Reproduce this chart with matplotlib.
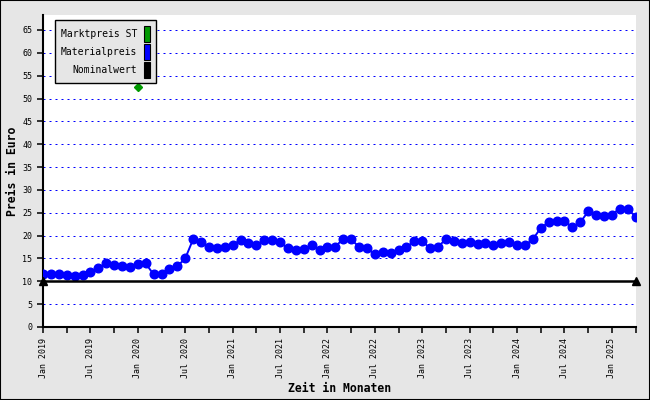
import numpy as np
import pandas as pd
import matplotlib
matplotlib.use('Agg')
import matplotlib.pyplot as plt
from matplotlib.patches import Patch, Rectangle

# Monate Jan 2019 .. Apr 2025
months = pd.date_range('2019-01-01', periods=76, freq='MS')

material = [11.6, 11.7, 11.5, 11.3, 11.1, 11.4, 12.0, 13.0, 13.9, 13.5,
            13.3, 13.1, 13.8, 13.9, 11.5, 11.7, 12.6, 13.3, 15.0, 19.2,
            18.5, 17.5, 17.2, 17.5, 18.0, 19.0, 18.3, 18.0, 19.0, 19.0,
            18.5, 17.2, 16.8, 17.0, 17.9, 16.8, 17.5, 17.6, 19.3, 19.2,
            17.5, 17.2, 15.9, 16.5, 16.1, 16.8, 17.5, 18.8, 18.8, 17.2,
            17.5, 19.3, 18.8, 18.3, 18.5, 18.1, 18.3, 17.9, 18.3, 18.5,
            17.9, 17.9, 19.2, 21.7, 22.9, 23.3, 23.1, 21.9, 22.9, 25.3,
            24.6, 24.3, 24.6, 25.9, 25.9, 24.1]

markt_months = ['2020-01']
markt_values = [52.5]

nominal_months = ['2019-01', '2025-04']
nominal_values = [10, 10]

labels = ['Marktpreis ST', 'Materialpreis', 'Nominalwert']
colors = ['#009900', '#0000ff', '#000000']

bg = '#e6e6e6'
mono = 'DejaVu Sans Mono'

month_keys = list(months.strftime('%Y-%m'))
x = np.arange(len(months))

fig = plt.figure(figsize=(6.5, 4.0), dpi=100, facecolor=bg)
ax = fig.add_axes([43/650, 73/400, 593/650, 312/400])
ax.set_facecolor('white')

# Gitterlinien
ax.set_yticks(np.arange(0, 66, 5))
for v in np.arange(5, 66, 5):
    ax.axhline(v, color='#0000ff', lw=0.72, linestyle=(0, (2, 4)), zorder=1)

# Materialpreis
ax.plot(x, material, color=colors[1], lw=1.4, marker='o', markersize=6.2, zorder=3)

# Nominalwert
xn = [month_keys.index(m) for m in nominal_months]
ax.plot(xn, nominal_values, color=colors[2], lw=1.8, marker='^', markersize=5.5,
        clip_on=False, zorder=4)

# Marktpreis ST
xm = [month_keys.index(m) for m in markt_months]
ax.plot(xm, markt_values, color=colors[0], linestyle='none', marker='D', markersize=4, zorder=3)

ax.set_xlim(0, 75.05)
ax.set_ylim(0, 68.28)

ax.set_xticks(x[::3])
ax.set_xticklabels([months[i].strftime('%b %Y') if i % 6 == 0 else '' for i in x[::3]],
                   rotation=90, fontsize=6, family=mono)
ax.set_yticklabels([str(v) for v in np.arange(0, 66, 5)], fontsize=6, family=mono)
ax.tick_params(axis='both', direction='out', length=4.3, width=1.1, color='black', pad=3.5)

for s in ['top', 'right']:
    ax.spines[s].set_visible(False)
for s in ['left', 'bottom']:
    ax.spines[s].set_linewidth(1.5)

fig.text(339.5/650, 1 - 389/400, 'Zeit in Monaten', ha='center', va='center',
         fontsize=8.3, fontweight='bold', family=mono)
fig.text(12/650, 1 - 171/400, 'Preis in Euro', ha='center', va='center', rotation=90,
         fontsize=8.3, fontweight='bold', family=mono)

handles = [Patch(facecolor=c, edgecolor='black', linewidth=0.8) for c in colors]
leg = ax.legend(handles, labels, loc='upper left', bbox_to_anchor=(55/650, 1 - 20/400),
                bbox_transform=fig.transFigure, borderaxespad=0, markerfirst=False,
                prop={'family': mono, 'size': 7}, handlelength=0.62, handleheight=2.15,
                handletextpad=0.7, labelspacing=0.2, borderpad=0.6, fancybox=False,
                framealpha=1, facecolor=bg, edgecolor='black')
leg.get_frame().set_linewidth(1.0)
leg.set_zorder(10)

fig.patches.append(Rectangle((0, 0), 1, 1, transform=fig.transFigure, fill=False,
                             edgecolor='black', linewidth=1.5))

fig.savefig('out.png', dpi=100, facecolor=bg)
